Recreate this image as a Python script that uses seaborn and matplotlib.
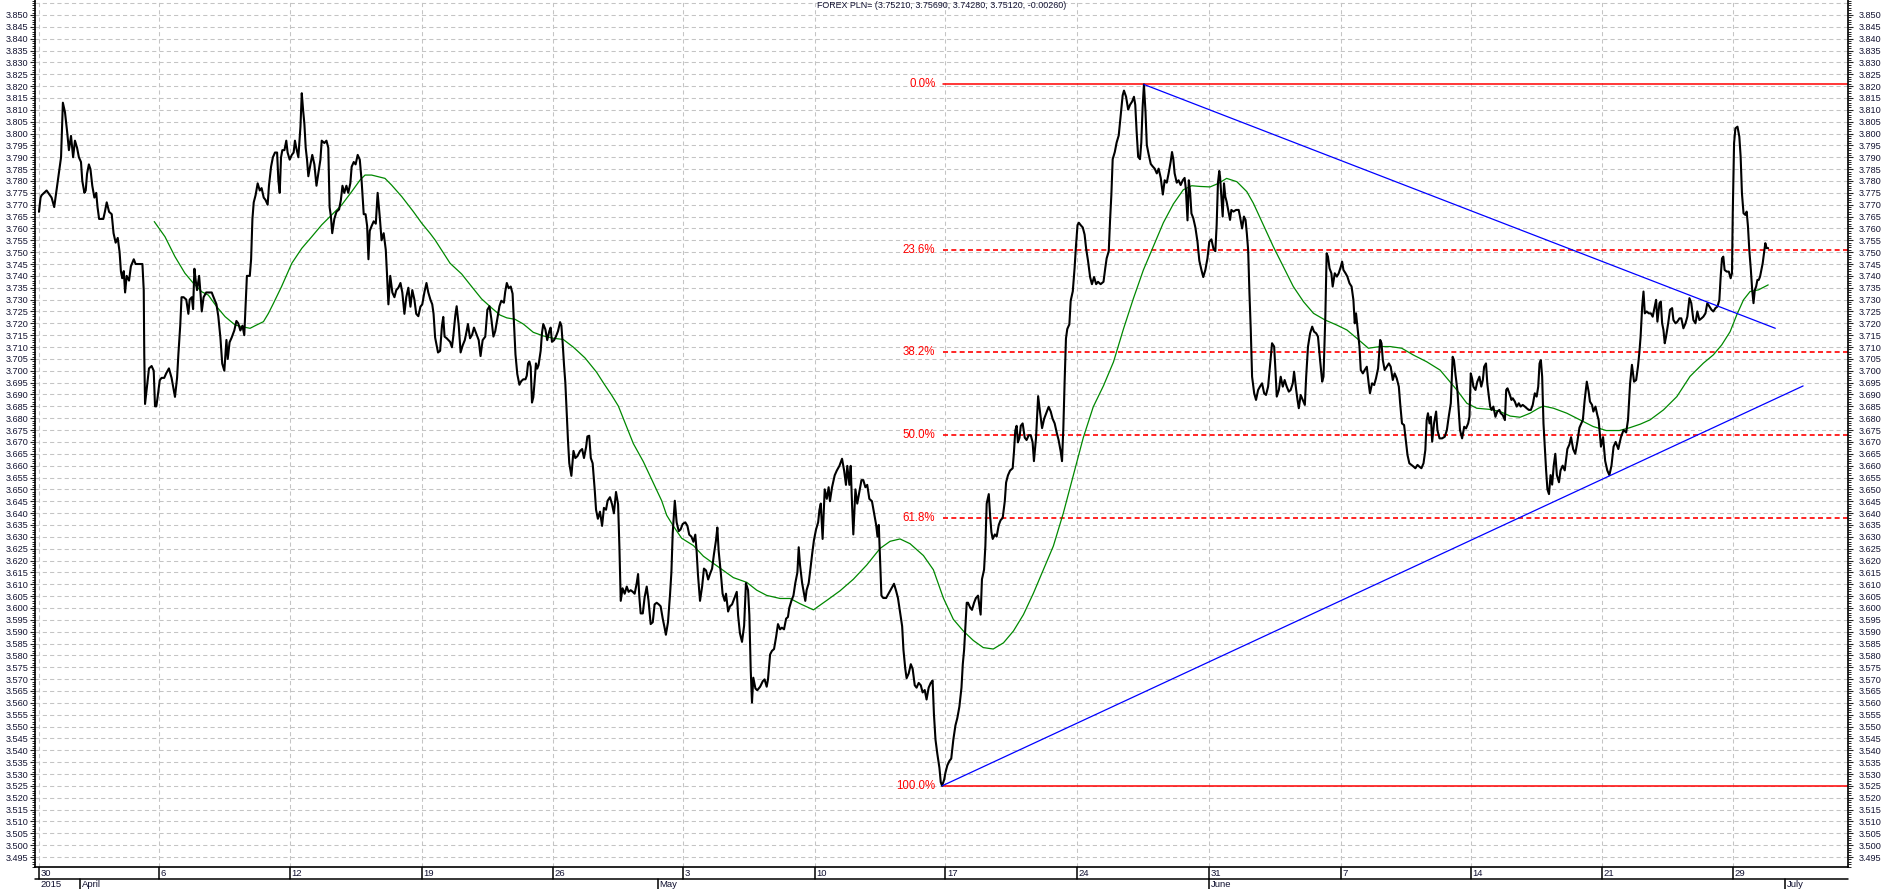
import numpy as np
import pandas as pd
import matplotlib
matplotlib.use("Agg")
import matplotlib.pyplot as plt
import seaborn as sns

# ---------------- data (trading-day position, price) ----------------
price_day = [
 0.00,0.06,0.10,0.29,0.48,0.58,0.63,0.74,0.84,0.91,0.99,1.07,1.14,1.22,1.30,1.37,1.45,1.52,1.60,1.65,
 1.73,1.78,1.83,1.90,1.96,2.03,2.11,2.18,2.23,2.29,2.45,2.51,2.58,2.67,2.77,2.84,2.92,3.00,3.07,3.12,
 3.17,3.23,3.28,3.34,3.43,3.50,3.61,3.68,3.78,3.94,3.99,4.01,4.04,4.11,4.19,4.29,4.37,4.42,4.47,4.52,
 4.60,4.67,4.77,4.85,4.95,5.05,5.10,5.18,5.26,5.31,5.38,5.43,5.51,5.61,5.69,5.74,5.82,5.87,5.92,5.97,
 6.02,6.10,6.15,6.20,6.27,6.37,6.48,6.58,6.65,6.76,6.83,6.91,6.98,7.06,7.14,7.19,7.26,7.34,7.44,7.52,
 7.59,7.67,7.75,7.82,7.87,7.92,8.03,8.08,8.13,8.18,8.25,8.33,8.41,8.48,8.56,8.63,8.71,8.76,8.84,8.91,
 8.99,9.07,9.12,9.17,9.22,9.27,9.35,9.42,9.47,9.55,9.63,9.70,9.75,9.80,9.88,9.96,10.01,10.06,10.11,10.16,
 10.21,10.26,10.34,10.41,10.49,10.57,10.64,10.72,10.77,10.87,10.95,11.02,11.07,11.12,11.17,11.25,11.33,11.43,11.50,11.56,
 11.63,11.71,11.78,11.86,11.91,11.99,12.06,12.14,12.22,12.29,12.37,12.44,12.50,12.55,12.60,12.67,12.75,12.83,12.90,12.98,
 13.05,13.13,13.21,13.26,13.31,13.38,13.46,13.54,13.61,13.69,13.77,13.84,13.92,13.99,14.07,14.15,14.22,14.30,14.37,14.45,
 14.53,14.60,14.68,14.76,14.83,14.91,14.98,15.03,15.09,
 15.20,15.28,15.35,15.40,15.45,15.53,15.66,15.73,15.78,15.86,15.91,15.99,16.06,16.14,16.22,16.29,16.34,16.42,16.50,16.57,
 16.65,16.75,16.82,16.90,17.00,17.08,17.16,17.23,17.31,17.38,17.46,17.54,17.61,17.71,17.76,17.82,17.89,17.97,18.04,18.10,
 18.15,18.22,18.30,18.37,18.45,18.53,18.58,18.63,18.68,18.73,18.78,18.83,18.88,18.93,18.98,19.03,19.11,19.16,19.21,19.29,
 19.36,19.44,19.49,19.54,19.62,19.69,19.77,19.85,19.90,19.95,20.00,20.05,20.10,20.15,20.20,20.28,20.36,20.43,20.51,20.61,
 20.69,20.76,20.84,20.89,20.96,21.02,21.09,21.17,21.22,21.29,21.37,21.45,21.52,21.60,21.66,21.75,21.83,21.90,21.98,22.06,
 22.11,22.16,22.23,22.31,22.39,22.46,22.54,22.62,22.69,22.77,22.82,22.87,22.92,23.00,23.07,23.15,23.22,23.30,23.38,23.45,
 23.53,23.61,23.68,23.76,23.83,23.88,23.96,24.04,24.09,24.14,24.22,24.29,24.37,24.44,24.52,24.62,24.70,24.77,24.85,24.93,
 25.00,25.05,25.10,25.18,25.26,25.33,25.41,25.49,25.56,25.64,25.71,25.79,25.84,25.89,25.97,26.04,26.12,26.17,26.25,26.32,
 26.40,26.50,26.58,26.63,26.70,26.78,26.86,26.93,27.01,27.06,27.11,27.16,27.21,27.29,27.36,27.47,27.57,27.64,27.72,27.77,
 27.85,27.92,28.00,28.08,28.15,28.23,28.30,28.38,28.46,28.53,28.58,28.66,28.74,28.81,28.89,28.94,28.99,29.07,29.14,29.19,
 29.24,29.32,29.37,29.45,29.52,29.60,29.68,29.73,
 29.78,29.85,29.93,30.01,30.08,30.13,30.21,30.31,30.39,30.49,30.59,30.67,30.74,30.79,30.87,30.92,30.97,31.02,31.10,31.17,
 31.25,31.33,31.40,31.48,31.55,31.63,31.73,31.81,31.89,31.94,31.99,32.04,32.09,32.16,32.27,32.37,32.47,32.57,32.65,32.72,
 32.80,32.88,32.93,33.00,33.05,33.13,33.21,33.28,33.36,33.43,33.51,33.59,33.66,33.74,33.81,33.89,33.97,34.04,34.09,34.15,
 34.22,34.30,34.35,34.40,34.48,34.53,34.60,34.68,34.75,34.83,34.91,34.98,35.06,35.14,35.19,35.24,35.29,35.34,35.39,35.47,
 35.54,35.62,35.69,35.77,35.82,35.87,35.92,36.00,36.05,36.10,36.18,36.23,36.28,36.33,36.41,36.48,36.56,36.63,36.71,36.79,
 36.84,36.91,36.99,37.09,37.14,37.19,37.24,37.29,37.35,37.40,37.47,37.55,37.62,37.70,37.78,37.85,37.90,37.98,38.06,38.13,
 38.21,38.29,38.39,38.46,38.54,38.61,38.69,38.77,38.84,38.92,38.97,39.02,39.07,39.12,39.17,39.25,39.30,39.38,39.45,39.50,
 39.56,39.61,39.68,39.76,39.83,39.89,39.96,40.04,40.11,40.19,40.27,40.34,40.44,40.55,40.62,40.67,40.75,40.80,40.85,40.90,
 40.98,41.05,41.13,41.21,41.28,41.33,41.41,41.49,41.56,41.64,41.71,41.76,41.81,41.87,41.94,41.99,42.04,42.09,42.15,42.20,
 42.27,42.35,42.42,42.50,42.58,42.65,42.73,42.81,42.88,42.96,43.03,43.11,43.16,43.21,43.26,43.34,43.41,43.49,43.57,43.64,
 43.69,43.75,43.80,43.85,43.90,43.97,44.05,44.13,44.20,44.28,44.35,44.43,44.51,44.58,44.66,44.74,44.81,44.86,44.91,44.96,
 44.99,45.04,45.09,45.14,45.19,45.24,45.32,45.37,45.42,45.50,45.60,45.70,45.75,45.83,45.90,45.96,46.01,46.06,46.11,46.16,
 46.21,46.29,46.36,46.44,46.51,46.59,46.67,46.74,46.82,46.90,46.97,47.05,47.10,47.15,47.23,47.30,47.38,47.45,47.53,47.61,
 47.68,47.76,47.81,47.89,47.94,47.99,48.06,48.14,48.22,48.27,48.34,48.42,48.50,48.57,48.65,48.72,48.80,48.88,48.93,49.00,
 49.05,49.10,49.16,49.23,49.28,49.36,49.44,49.51,49.59,49.64,49.69,49.77,49.84,49.92,50.00,50.07,50.12,50.17,50.25,50.30,
 50.35,50.43,50.50,50.58,50.65,50.70,50.78,50.86,50.93,51.01,51.09,51.14,51.19,51.26,51.34,51.42,51.49,51.57,51.64,51.72,
 51.80,51.85,51.92,52.00,52.08,52.13,52.20,52.28,52.36,52.43,52.51,52.58,52.66,52.74,52.81,52.86,52.91,52.97,53.02,53.07,
 53.14,53.22,53.27,53.35,53.45,53.55,53.63,53.70,53.78,53.85,53.90,53.96,54.03,54.08,54.13,54.21,54.29,54.36,54.44,54.49,
 54.54,54.59,54.64,54.72,54.79,54.87,54.94,55.00,55.05,55.12,55.17,55.23,55.28,55.33,55.40,55.48,55.55,55.63,55.68,55.76,
 55.84,55.89,55.94,56.01,56.09,56.14,56.22,56.29,56.37,56.44,56.52,56.60,56.67,56.75,56.83,56.90,56.98,57.05,57.11,57.16,
 57.21,57.26,57.31,57.36,57.41,57.46,57.52,57.58,57.64,57.70,57.76,57.82,57.90,57.96,58.04,58.12,58.22,58.30,58.36,58.44,
 58.52,58.60,58.68,58.81,58.88,58.96,59.03,59.08,59.16,59.21,59.29,59.36,59.41,59.50,59.58,59.66,59.74,59.82,59.90,59.98,
 60.06,60.16,60.26,60.36,60.46,60.53,60.61,60.68,60.76,60.84,60.91,60.96,61.01,61.07,61.12,61.17,61.24,61.32,61.40,61.47,
 61.55,61.60,61.65,61.73,61.78,61.83,61.88,61.93,61.98,62.06,62.13,62.21,62.26,62.34,62.41,62.49,62.56,62.64,62.72,62.79,
 62.87,62.94,63.02,63.10,63.17,63.25,63.33,63.40,63.48,63.55,63.63,63.71,63.78,63.86,63.94,64.01,64.06,64.11,64.16,64.21,
 64.29,64.37,64.44,64.49,64.52,64.57,64.62,64.70,64.77,64.82,64.87,64.93,65.00,65.05,65.10,65.15,65.21,65.26,65.31,65.36,
 65.41,65.46,65.51,65.56,65.61,65.66,65.71,65.76,65.81,65.87,
]
price_value = [
 3.767,3.773,3.774,3.776,3.773,3.769,3.773,3.782,3.790,3.813,3.809,3.801,3.793,3.799,3.790,3.797,3.794,3.790,3.788,3.780,
 3.775,3.776,3.783,3.787,3.785,3.778,3.773,3.775,3.769,3.764,3.764,3.767,3.771,3.767,3.766,3.758,3.754,3.756,3.750,3.742,
 3.739,3.742,3.733,3.740,3.738,3.744,3.747,3.745,3.745,3.745,3.734,3.707,3.686,3.693,3.701,3.702,3.700,3.685,3.685,3.689,
 3.696,3.697,3.697,3.699,3.701,3.697,3.694,3.689,3.697,3.707,3.719,3.731,3.731,3.730,3.724,3.730,3.731,3.726,3.743,3.738,
 3.734,3.740,3.733,3.725,3.731,3.733,3.733,3.733,3.731,3.728,3.723,3.714,3.703,3.700,3.713,3.705,3.712,3.714,3.717,3.721,
 3.720,3.717,3.719,3.715,3.727,3.740,3.740,3.747,3.764,3.771,3.774,3.779,3.776,3.777,3.773,3.772,3.770,3.778,3.786,3.790,
 3.792,3.792,3.780,3.775,3.790,3.793,3.793,3.797,3.792,3.789,3.791,3.792,3.797,3.794,3.790,3.803,3.817,3.810,3.804,3.794,
 3.789,3.782,3.787,3.791,3.787,3.778,3.783,3.789,3.797,3.796,3.797,3.794,3.769,3.765,3.758,3.764,3.767,3.768,3.772,3.778,
 3.775,3.778,3.775,3.779,3.786,3.788,3.787,3.791,3.789,3.780,3.766,3.766,3.761,3.747,3.759,3.761,3.763,3.762,3.775,3.765,
 3.755,3.758,3.751,3.740,3.728,3.740,3.733,3.731,3.734,3.735,3.737,3.733,3.724,3.731,3.735,3.727,3.734,3.730,3.724,3.723,
 3.727,3.728,3.733,3.737,3.733,3.730,3.728,3.724,3.714,
 3.7077,3.7084,3.7190,3.7227,3.7144,3.7137,3.7122,3.7099,3.7144,3.7235,3.7272,3.7190,3.7077,3.7107,3.7129,3.7167,3.7197,3.7137,3.7152,3.7182,
 3.7159,3.7129,3.7062,3.7129,3.7144,3.7257,3.7272,3.7220,3.7144,3.7167,3.7220,3.7272,3.7295,3.7287,3.7333,3.7370,3.7348,3.7355,3.7325,3.7190,
 3.7069,3.6986,3.6941,3.6956,3.6964,3.6964,3.6979,3.7031,3.7039,3.7016,3.6866,3.6888,3.6956,3.7031,3.7009,3.7024,3.7084,3.7159,3.7197,3.7174,
 3.7129,3.7167,3.7182,3.7122,3.7129,3.7144,3.7167,3.7205,3.7190,3.7114,3.7024,3.6949,3.6828,3.6708,3.6610,3.6557,3.6662,3.6632,3.6640,3.6662,
 3.6670,3.6632,3.6678,3.6723,3.6726,3.6632,3.6610,3.6497,3.6414,3.6376,3.6406,3.6346,3.6422,3.6414,3.6452,3.6467,3.6437,3.6399,3.6489,3.6437,
 3.6256,3.6030,3.6083,3.6060,3.6090,3.6068,3.6075,3.6068,3.6060,3.6105,3.6143,3.6045,3.5977,3.5977,3.6045,3.6090,3.6030,3.5932,3.5940,3.6015,
 3.6022,3.6015,3.6007,3.5955,3.5917,3.5887,3.5940,3.6060,3.6150,3.6316,3.6452,3.6361,3.6324,3.6331,3.6354,3.6361,3.6346,3.6309,3.6301,3.6279,
 3.6309,3.6241,3.6143,3.6030,3.6090,3.6166,3.6158,3.6120,3.6143,3.6166,3.6226,3.6286,3.6339,3.6241,3.6150,3.6060,3.6030,3.6060,3.5985,3.6007,
 3.6015,3.6045,3.6068,3.5970,3.5894,3.5857,3.5925,3.6105,3.6075,3.5970,3.5744,3.5601,3.5706,3.5661,3.5653,3.5668,3.5691,3.5699,3.5668,3.5699,
 3.5804,3.5819,3.5827,3.5879,3.5932,3.5910,3.5917,3.5910,3.5955,3.5962,3.6000,3.6030,3.6053,3.6105,3.6150,3.6256,3.6181,3.6105,3.6060,3.6030,
 3.6075,3.6105,3.6150,3.6226,3.6286,3.6331,3.6361,3.6414,
 3.6440,3.6291,3.6500,3.6460,3.6509,3.6450,3.6509,3.6559,3.6579,3.6599,3.6629,3.6579,3.6519,3.6599,3.6519,3.6599,3.6440,3.6310,3.6500,3.6440,
 3.6490,3.6539,3.6539,3.6509,3.6519,3.6460,3.6450,3.6400,3.6350,3.6301,3.6350,3.6201,3.6052,3.6042,3.6042,3.6062,3.6082,3.6102,3.6072,3.6042,
 3.5982,3.5923,3.5823,3.5743,3.5704,3.5724,3.5763,3.5743,3.5674,3.5664,3.5684,3.5674,3.5644,3.5654,3.5614,3.5664,3.5684,3.5694,3.5554,3.5445,
 3.5385,3.5326,3.5266,3.5250,3.5276,3.5306,3.5336,3.5355,3.5365,3.5445,3.5505,3.5535,3.5584,3.5664,3.5763,3.5823,3.5923,3.6022,3.6022,3.6002,
 3.5992,3.6022,3.6042,3.6052,3.6012,3.5972,3.6121,3.6161,3.6261,3.6440,3.6480,3.6390,3.6320,3.6291,3.6310,3.6301,3.6350,3.6370,3.6380,3.6450,
 3.6529,3.6559,3.6579,3.6589,3.6659,3.6748,3.6768,3.6698,3.6718,3.6768,3.6778,3.6718,3.6708,3.6728,3.6728,3.6698,3.6619,3.6718,3.6893,3.6828,
 3.6758,3.6798,3.6828,3.6848,3.6828,3.6798,3.6778,3.6738,3.6708,3.6659,3.6619,3.6758,3.6957,3.7136,3.7176,3.7196,3.7295,3.7335,3.7435,3.7524,
 3.7614,3.7624,3.7614,3.7604,3.7574,3.7514,3.7464,3.7395,3.7365,3.7395,3.7365,3.7375,3.7365,3.7375,3.7435,3.7474,3.7504,3.7634,3.7743,3.7892,
 3.7922,3.7962,3.7992,3.8081,3.8161,3.8181,3.8155,3.8101,3.8121,3.8135,3.8155,3.8121,3.8012,3.7902,3.7892,3.7962,3.8111,3.8207,3.8091,3.7952,
 3.7912,3.7872,3.7862,3.7852,3.7832,3.7852,3.7813,3.7743,3.7803,3.7793,3.7832,3.7882,3.7922,3.7892,3.7832,3.7793,3.7803,3.7783,3.7803,3.7813,
 3.7763,3.7634,3.7803,3.7753,3.7663,3.7643,3.7604,3.7544,3.7464,3.7425,3.7395,3.7425,3.7474,3.7544,3.7554,3.7514,3.7504,3.7614,3.7793,3.7842,
 3.7818,3.7734,3.7650,3.7790,3.7734,3.7713,3.7664,3.7636,3.7678,3.7671,3.7678,3.7678,3.7650,3.7600,3.7650,3.7636,3.7579,3.7509,3.7326,3.7172,
 3.6975,3.6905,3.6877,3.6919,3.6933,3.6947,3.6905,3.6898,3.6933,3.7031,3.7116,3.7102,3.7003,3.6891,3.6919,3.6975,3.6933,3.6961,3.6933,3.6912,
 3.6919,3.6947,3.6996,3.6919,3.6877,3.6842,3.6898,3.6877,3.6856,3.6975,3.7102,3.7158,3.7186,3.7165,3.7158,3.7144,3.7045,3.6954,3.6975,3.7228,
 3.7495,3.7481,3.7432,3.7411,3.7355,3.7411,3.7397,3.7411,3.7439,3.7460,3.7425,3.7411,3.7397,3.7369,3.7355,3.7298,3.7200,3.7242,3.7158,3.7102,
 3.7003,3.6989,3.7003,3.7017,3.6947,3.6905,3.6947,3.6940,3.6968,3.7010,3.7130,3.7116,3.7045,3.7003,3.7017,3.7031,3.7017,3.6961,3.6989,3.6968,
 3.6933,3.6863,3.6778,3.6771,3.6694,3.6645,3.6610,3.6603,3.6596,3.6589,3.6603,3.6596,3.6589,3.6610,3.6666,3.6792,3.6821,3.6778,3.6806,3.6701,
 3.6778,3.6828,3.6750,3.6715,3.6715,3.6722,3.6750,3.6806,3.6863,3.7059,3.7045,3.6982,3.6919,3.6835,3.6750,3.6715,3.6764,3.6757,3.6778,3.6806,
 3.6989,3.6968,3.6933,3.6919,3.6954,3.6975,3.6933,3.6961,3.7017,3.7031,3.6947,3.6891,3.6849,3.6835,3.6849,3.6806,3.6828,3.6835,3.6821,3.6813,
 3.6792,3.6919,3.6926,3.6905,3.6877,3.6884,3.6870,3.6849,3.6863,3.6849,3.6856,3.6849,3.6842,3.6835,3.6835,3.6856,3.6905,3.6891,3.6933,3.7031,
 3.7045,3.6975,3.6778,3.668,3.658,3.650,3.648,3.656,3.652,3.660,3.665,3.656,3.653,3.658,3.660,3.658,3.667,3.669,3.672,3.667,
 3.665,3.670,3.676,3.6793,3.6877,3.6954,3.6912,3.6870,3.6856,3.6828,3.6849,3.6814,3.6793,3.668,3.672,3.662,3.658,3.656,3.660,3.668,
 3.670,3.667,3.672,3.675,3.674,3.6793,3.6947,3.7025,3.6954,3.6961,3.7018,3.7074,3.7144,3.7271,3.7334,3.7242,3.7250,3.7242,3.7242,3.7228,
 3.7271,3.7299,3.7207,3.7285,3.7292,3.7200,3.7172,3.7116,3.7144,3.7200,3.7257,3.7264,3.7214,3.7200,3.7207,3.7221,3.7221,3.7179,3.7200,3.7228,
 3.7306,3.7285,3.7214,3.7200,3.7250,3.7214,3.7221,3.7228,3.7242,3.7285,3.7271,3.7257,3.7250,3.7264,3.7271,3.7299,3.7397,3.7474,3.7481,3.7425,
 3.7418,3.7418,3.7390,3.7411,3.7664,3.7959,3.8022,3.8029,3.7987,3.7903,3.7748,3.7664,3.7657,3.7671,3.7608,3.7509,3.7425,3.7341,3.7285,3.7341,
 3.7355,3.7383,3.7383,3.7397,3.7425,3.7453,3.7495,3.7538,3.7517,3.7517,
]

# green moving average
ma_day = [
 4.39,4.80,5.18,5.56,5.88,6.20,6.45,6.77,7.09,7.47,7.72,8.04,8.29,8.55,8.74,8.93,9.24,9.63,10.01,10.39,
 10.77,11.15,11.53,11.91,12.23,12.42,12.67,12.93,13.18,13.43,13.82,14.26,14.58,14.90,15.09,15.66,16.10,16.48,16.86,17.24,
 17.56,17.82,18.13,18.45,18.83,19.21,19.59,19.97,20.36,20.80,21.24,21.50,21.82,22.07,22.26,22.64,23.02,23.40,23.72,23.91,
 24.16,24.48,24.93,25.31,25.69,26.07,26.45,26.96,27.34,27.72,28.23,28.61,28.99,29.50,30.01,30.51,31.02,31.53,32.04,32.42,
 32.80,33.18,33.69,34.07,34.45,34.83,35.21,35.59,35.97,36.35,36.74,37.12,37.50,37.88,38.26,38.64,39.02,39.40,39.78,40.16,
 40.55,40.93,41.31,41.69,42.07,42.45,42.83,43.21,43.59,43.91,44.23,44.61,44.93,45.24,45.63,46.01,46.26,46.64,47.02,47.40,
 47.78,48.17,48.55,48.99,49.43,49.82,50.20,50.64,51.09,51.47,51.91,52.36,52.86,53.37,53.69,54.01,54.39,54.77,55.28,55.66,
 56.04,56.42,56.80,57.12,57.31,57.69,58.20,58.70,59.20,59.70,60.20,60.60,61.00,61.37,61.88,62.39,62.89,63.40,63.78,64.10,
 64.42,64.67,64.93,65.18,65.50,65.69,65.87,
]
ma_value = [
 3.7629,3.7565,3.7481,3.7411,3.7369,3.7333,3.7319,3.7270,3.7228,3.7193,3.7186,3.7179,3.7193,3.7207,3.7242,3.7284,3.7355,3.7453,3.7516,3.7565,
 3.7615,3.7657,3.7699,3.7755,3.7804,3.7825,3.7825,3.7818,3.7811,3.7783,3.7734,3.7671,3.7622,3.7579,3.7551,3.7453,3.7408,3.7355,3.7303,3.7265,
 3.7235,3.7223,3.7217,3.7197,3.7162,3.7147,3.7137,3.7132,3.7099,3.7054,3.6994,3.6949,3.6896,3.6851,3.6798,3.6693,3.6617,3.6527,3.6452,3.6391,
 3.6346,3.6294,3.6263,3.6218,3.6188,3.6158,3.6128,3.6108,3.6075,3.6053,3.6040,3.6040,3.6018,3.5992,3.6032,3.6072,3.6121,3.6181,3.6251,3.6281,
 3.6291,3.6271,3.6221,3.6161,3.6042,3.5952,3.5903,3.5863,3.5833,3.5827,3.5853,3.5903,3.5972,3.6062,3.6161,3.6261,3.6400,3.6559,3.6718,3.6848,
 3.6937,3.7037,3.7176,3.7305,3.7425,3.7524,3.7624,3.7703,3.7763,3.7780,3.7777,3.7775,3.7790,3.7811,3.7797,3.7755,3.7706,3.7614,3.7523,3.7439,
 3.7355,3.7291,3.7242,3.7214,3.7193,3.7172,3.7137,3.7095,3.7102,3.7102,3.7095,3.7066,3.7038,3.7003,3.6961,3.6919,3.6863,3.6842,3.6837,3.6828,
 3.6809,3.6804,3.6821,3.6842,3.6851,3.6842,3.6821,3.6793,3.6765,3.6748,3.6748,3.6760,3.6775,3.6793,3.6835,3.6891,3.6976,3.7032,3.7067,3.7109,
 3.7165,3.7235,3.7299,3.7334,3.7341,3.7352,3.7362,
]

# Fibonacci retracement between swing low and swing high
fib_low_day, fib_low = 34.40, 3.5250
fib_high = 3.8207
fib_pcts = [0.0, 23.6, 38.2, 50.0, 61.8, 100.0]

# trend lines (start day, start price, end day, end price)
resist_line = [42.09, 3.8207, 66.14, 3.7179]
support_line = [34.40, 3.5250, 67.20, 3.6936]

week_pos = [0.00, 4.57, 9.56, 14.59, 19.58, 24.53, 29.56, 34.53, 39.54, 44.57, 49.60, 54.55, 59.54, 64.53]
week_labels = ["30", "6", "12", "19", "26", "3", "10", "17", "24", "31", "7", "14", "21", "29"]
month_pos = [1.56, 23.58, 44.57, 66.51]
month_labels = ["April", "May", "June", "July"]
year_label = "2015"
title_text = "FOREX PLN= (3.75210, 3.75690, 3.74280, 3.75120, -0.00260)"

# ---------------- styling ----------------
sns.set_style("white")
plt.rcParams["font.family"] = ["Liberation Sans", "DejaVu Sans"]

W, H = 1883, 889
fig = plt.figure(figsize=(W / 100, H / 100), dpi=100)
fig.patch.set_facecolor("white")

L, R, B = 35, 1848, 867
ax = fig.add_axes([L / W, (H - B) / H, (R - L) / W, B / H])
XMIN, XMAX = -0.152, 68.91
YMIN, YMAX = 3.4908, 3.8563
ax.set_xlim(XMIN, XMAX)
ax.set_ylim(YMIN, YMAX)

# grid
grid_kw = dict(color="#c4c4c4", lw=0.75, ls=(0, (4, 3)), zorder=0)
for p in np.arange(3.495, 3.8551, 0.005):
    ax.axhline(p, **grid_kw)
for d in week_pos:
    ax.axvline(d, **grid_kw)

# price & MA
df_price = pd.DataFrame({"day": price_day, "price": price_value})
df_ma = pd.DataFrame({"day": ma_day, "ma": ma_value})
sns.lineplot(data=df_ma, x="day", y="ma", ax=ax, color="#008800", lw=0.9,
             estimator=None, sort=False, legend=False, zorder=3)
sns.lineplot(data=df_price, x="day", y="price", ax=ax, color="black", lw=1.5,
             estimator=None, sort=False, legend=False, zorder=4)

# Fibonacci levels
rng = fib_high - fib_low
for pct in fib_pcts:
    lvl = fib_high - pct / 100.0 * rng
    solid = pct in (0.0, 100.0)
    ax.plot([fib_low_day + 0.05, XMAX], [lvl, lvl], color="#ff0000",
            lw=1.1 if solid else 1.2, ls="-" if solid else (0, (3, 2)), zorder=2)
    ax.annotate(f"{pct:.1f}%", xy=(fib_low_day + 0.05, lvl), xytext=(-8, 0),
                textcoords="offset pixels", ha="right", va="center",
                color="#ff0000", fontsize=8.3)

# trend lines
ax.plot(resist_line[0::2], resist_line[1::2], color="#0000ff", lw=0.9, zorder=5)
ax.plot(support_line[0::2], support_line[1::2], color="#0000ff", lw=0.9, zorder=5)

# axes / ticks
ax.set_xlabel("")
ax.set_ylabel("")
ax.set_xticks([])
major = np.arange(3.495, 3.8501, 0.005)
ax.set_yticks(major)
ax.set_yticklabels([f"{v:.3f}" for v in major])
ax.set_yticks(np.arange(3.491, 3.8561, 0.001), minor=True)
ax.tick_params(axis="y", which="major", left=True, right=True, labelleft=True,
               labelright=True, length=3.6, width=0.8, labelsize=6.6,
               labelcolor="#141432", pad=1.0, direction="out")
ax.tick_params(axis="y", which="minor", left=True, right=True, length=2.2,
               width=0.7, direction="out")
for lab in ax.get_yticklabels():
    pass
ax.yaxis.set_tick_params(which="major", pad=1.0)
for t in ax.yaxis.get_major_ticks():
    t.label2.set_x(1.0)
ax.tick_params(axis="y", which="major", labelright=True)
for s in ["left", "right", "bottom"]:
    ax.spines[s].set_visible(True)
    ax.spines[s].set_color("black")
    ax.spines[s].set_linewidth(1.2)
ax.spines["top"].set_visible(False)

# right labels a bit further from spine
import matplotlib.transforms as mtransforms
offset = mtransforms.ScaledTranslation(4 / 100, 0, fig.dpi_scale_trans)
for t in ax.yaxis.get_major_ticks():
    t.label2.set_transform(t.label2.get_transform() + offset)

# title
fig.text(942 / W, 1 - 6 / H, title_text, ha="center", va="center",
         fontsize=6.4, color="#101030")

# date strip
ax2 = fig.add_axes([L / W, 0, (R - L) / W, (H - B) / H])
ax2.set_xlim(XMIN, XMAX)
ax2.set_ylim(22, 0)
ax2.axis("off")
ax2.plot([XMIN, XMAX], [11.5, 11.5], color="black", lw=1.1, clip_on=False)
for d, lab in zip(week_pos, week_labels):
    ax2.plot([d, d], [0, 11.5], color="black", lw=1.1)
    ax2.text(d + 0.06, 6.0, lab, ha="left", va="center", fontsize=6.8, color="#101030")
for d, lab in zip(month_pos, month_labels):
    ax2.plot([d, d], [11.5, 22], color="black", lw=1.1)
    ax2.text(d + 0.06, 17.5, lab, ha="left", va="center", fontsize=6.8, color="#101030")
ax2.text(0.06, 17.5, year_label, ha="left", va="center", fontsize=6.8, color="#101030")

fig.savefig("out.png", dpi=100, facecolor="white")
